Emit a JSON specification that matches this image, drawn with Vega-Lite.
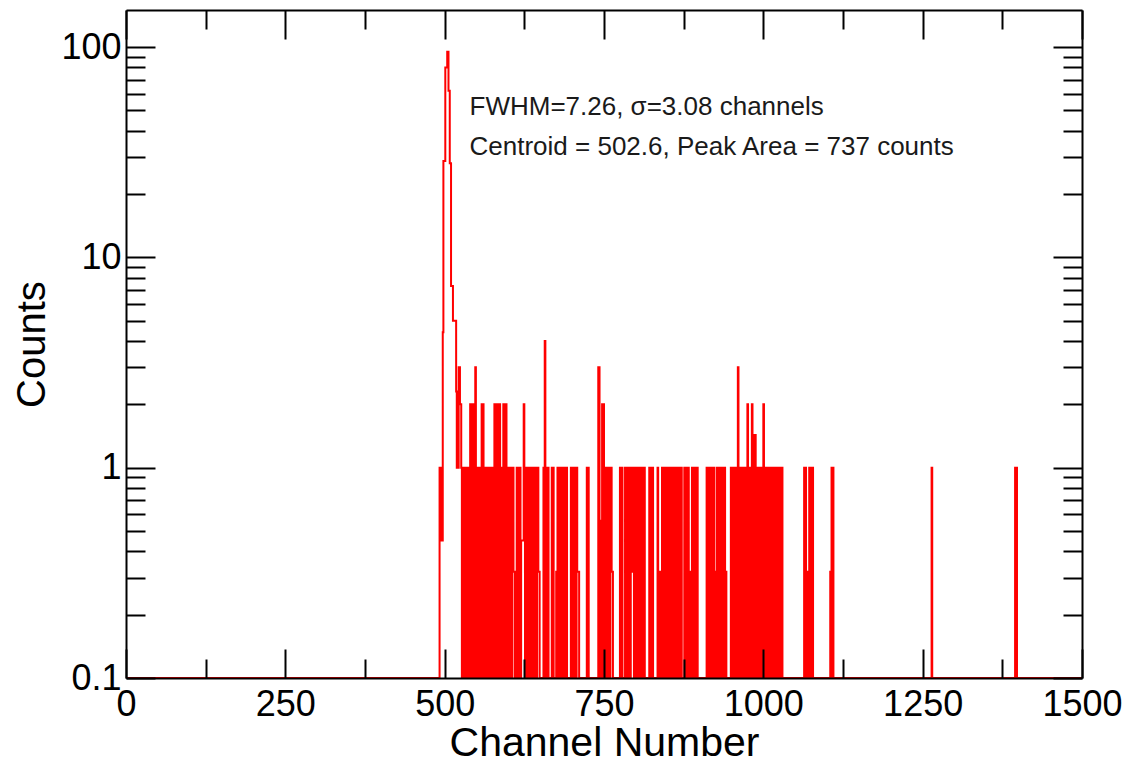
{
  "$schema": "https://vega.github.io/schema/vega-lite/v6.json",
  "width": 956,
  "height": 668,
  "autosize": {"type": "none"},
  "padding": {"left": 126, "top": 10, "right": 48, "bottom": 86},
  "background": "white",
  "config": {"view": {"stroke": null}, "font": "Liberation Sans"},
  "data": {"values": [
    {"channel": 0, "counts": 0},
    {"channel": 492, "counts": 1},
    {"channel": 494, "counts": 0.45},
    {"channel": 497, "counts": 4.4},
    {"channel": 498, "counts": 28.7},
    {"channel": 501, "counts": 80},
    {"channel": 504, "counts": 95},
    {"channel": 506, "counts": 62},
    {"channel": 508, "counts": 28},
    {"channel": 510, "counts": 7.3},
    {"channel": 513, "counts": 5},
    {"channel": 518, "counts": 2.3},
    {"channel": 519, "counts": 1},
    {"channel": 520, "counts": 2.3},
    {"channel": 521, "counts": 1},
    {"channel": 522, "counts": 3},
    {"channel": 524, "counts": 2},
    {"channel": 526, "counts": 1},
    {"channel": 527, "counts": 0},
    {"channel": 528, "counts": 1},
    {"channel": 529, "counts": 0},
    {"channel": 531, "counts": 1},
    {"channel": 532, "counts": 0},
    {"channel": 534, "counts": 1},
    {"channel": 535, "counts": 0},
    {"channel": 537, "counts": 1},
    {"channel": 538, "counts": 0},
    {"channel": 540, "counts": 2},
    {"channel": 541, "counts": 0},
    {"channel": 542, "counts": 2},
    {"channel": 543, "counts": 0},
    {"channel": 544, "counts": 2},
    {"channel": 545, "counts": 1},
    {"channel": 546, "counts": 0},
    {"channel": 547, "counts": 1},
    {"channel": 548, "counts": 3},
    {"channel": 549, "counts": 0},
    {"channel": 550, "counts": 1},
    {"channel": 551, "counts": 0},
    {"channel": 553, "counts": 1},
    {"channel": 554, "counts": 0},
    {"channel": 556, "counts": 1},
    {"channel": 557, "counts": 0},
    {"channel": 558, "counts": 2},
    {"channel": 559, "counts": 0},
    {"channel": 560, "counts": 2},
    {"channel": 561, "counts": 0},
    {"channel": 562, "counts": 1},
    {"channel": 563, "counts": 0},
    {"channel": 565, "counts": 1},
    {"channel": 566, "counts": 0},
    {"channel": 568, "counts": 1},
    {"channel": 569, "counts": 0},
    {"channel": 571, "counts": 1},
    {"channel": 572, "counts": 0},
    {"channel": 574, "counts": 1},
    {"channel": 575, "counts": 0},
    {"channel": 576, "counts": 1},
    {"channel": 577, "counts": 0},
    {"channel": 578, "counts": 2},
    {"channel": 579, "counts": 0},
    {"channel": 580, "counts": 2},
    {"channel": 581, "counts": 0.32},
    {"channel": 583, "counts": 0},
    {"channel": 584, "counts": 2},
    {"channel": 585, "counts": 0},
    {"channel": 586, "counts": 2},
    {"channel": 587, "counts": 1},
    {"channel": 588, "counts": 0},
    {"channel": 590, "counts": 1},
    {"channel": 591, "counts": 0},
    {"channel": 592, "counts": 2},
    {"channel": 593, "counts": 0},
    {"channel": 594, "counts": 2},
    {"channel": 595, "counts": 0},
    {"channel": 596, "counts": 2},
    {"channel": 597, "counts": 0},
    {"channel": 598, "counts": 1},
    {"channel": 599, "counts": 0},
    {"channel": 601, "counts": 1},
    {"channel": 602, "counts": 0},
    {"channel": 603, "counts": 1},
    {"channel": 604, "counts": 0},
    {"channel": 606, "counts": 1},
    {"channel": 608, "counts": 0.32},
    {"channel": 610, "counts": 0},
    {"channel": 613, "counts": 1},
    {"channel": 614, "counts": 0},
    {"channel": 616, "counts": 1},
    {"channel": 617, "counts": 0},
    {"channel": 618, "counts": 1},
    {"channel": 619, "counts": 0},
    {"channel": 620, "counts": 0.45},
    {"channel": 624, "counts": 2},
    {"channel": 625, "counts": 1},
    {"channel": 626, "counts": 0},
    {"channel": 627, "counts": 1},
    {"channel": 628, "counts": 0},
    {"channel": 630, "counts": 1},
    {"channel": 631, "counts": 0},
    {"channel": 633, "counts": 1},
    {"channel": 634, "counts": 0},
    {"channel": 636, "counts": 1},
    {"channel": 637, "counts": 0},
    {"channel": 639, "counts": 1},
    {"channel": 640, "counts": 0},
    {"channel": 642, "counts": 1},
    {"channel": 643, "counts": 0},
    {"channel": 645, "counts": 1},
    {"channel": 647, "counts": 0.32},
    {"channel": 649, "counts": 0},
    {"channel": 655, "counts": 1},
    {"channel": 656, "counts": 0},
    {"channel": 657, "counts": 4},
    {"channel": 658, "counts": 0},
    {"channel": 659, "counts": 1},
    {"channel": 660, "counts": 0},
    {"channel": 662, "counts": 1},
    {"channel": 663, "counts": 0},
    {"channel": 668, "counts": 1},
    {"channel": 669, "counts": 0},
    {"channel": 670, "counts": 1},
    {"channel": 671, "counts": 0},
    {"channel": 675, "counts": 0.32},
    {"channel": 677, "counts": 1},
    {"channel": 678, "counts": 0},
    {"channel": 680, "counts": 1},
    {"channel": 681, "counts": 0},
    {"channel": 683, "counts": 1},
    {"channel": 684, "counts": 0},
    {"channel": 686, "counts": 1},
    {"channel": 687, "counts": 0},
    {"channel": 689, "counts": 1},
    {"channel": 690, "counts": 0},
    {"channel": 691, "counts": 1},
    {"channel": 692, "counts": 0},
    {"channel": 698, "counts": 1},
    {"channel": 699, "counts": 0},
    {"channel": 701, "counts": 1},
    {"channel": 702, "counts": 0},
    {"channel": 704, "counts": 1},
    {"channel": 705, "counts": 0},
    {"channel": 707, "counts": 1},
    {"channel": 708, "counts": 0.32},
    {"channel": 711, "counts": 0},
    {"channel": 723, "counts": 1},
    {"channel": 724, "counts": 0},
    {"channel": 725, "counts": 1},
    {"channel": 726, "counts": 0},
    {"channel": 741, "counts": 3},
    {"channel": 743, "counts": 0.56},
    {"channel": 744, "counts": 0},
    {"channel": 745, "counts": 0.56},
    {"channel": 746, "counts": 0},
    {"channel": 747, "counts": 2},
    {"channel": 748, "counts": 0},
    {"channel": 749, "counts": 2},
    {"channel": 750, "counts": 1},
    {"channel": 751, "counts": 0},
    {"channel": 752, "counts": 1},
    {"channel": 753, "counts": 0},
    {"channel": 755, "counts": 1},
    {"channel": 756, "counts": 0},
    {"channel": 758, "counts": 1},
    {"channel": 759, "counts": 0},
    {"channel": 760, "counts": 1},
    {"channel": 762, "counts": 0.32},
    {"channel": 764, "counts": 0},
    {"channel": 775, "counts": 1},
    {"channel": 776, "counts": 0},
    {"channel": 778, "counts": 1},
    {"channel": 779, "counts": 0},
    {"channel": 783, "counts": 1},
    {"channel": 784, "counts": 0},
    {"channel": 786, "counts": 1},
    {"channel": 787, "counts": 0},
    {"channel": 789, "counts": 1},
    {"channel": 790, "counts": 0},
    {"channel": 792, "counts": 1},
    {"channel": 794, "counts": 0.32},
    {"channel": 796, "counts": 1},
    {"channel": 797, "counts": 0},
    {"channel": 798, "counts": 1},
    {"channel": 799, "counts": 0},
    {"channel": 802, "counts": 1},
    {"channel": 803, "counts": 0},
    {"channel": 805, "counts": 1},
    {"channel": 806, "counts": 0},
    {"channel": 808, "counts": 1},
    {"channel": 809, "counts": 0},
    {"channel": 811, "counts": 1},
    {"channel": 812, "counts": 0},
    {"channel": 813, "counts": 1},
    {"channel": 814, "counts": 0},
    {"channel": 821, "counts": 1},
    {"channel": 822, "counts": 0},
    {"channel": 824, "counts": 1},
    {"channel": 825, "counts": 0},
    {"channel": 826, "counts": 1},
    {"channel": 827, "counts": 0},
    {"channel": 834, "counts": 1},
    {"channel": 835, "counts": 0},
    {"channel": 836, "counts": 0.32},
    {"channel": 837, "counts": 0},
    {"channel": 839, "counts": 0.32},
    {"channel": 840, "counts": 0},
    {"channel": 841, "counts": 1},
    {"channel": 842, "counts": 0},
    {"channel": 844, "counts": 1},
    {"channel": 845, "counts": 0},
    {"channel": 847, "counts": 1},
    {"channel": 848, "counts": 0},
    {"channel": 850, "counts": 1},
    {"channel": 851, "counts": 0},
    {"channel": 853, "counts": 1},
    {"channel": 854, "counts": 0},
    {"channel": 856, "counts": 1},
    {"channel": 857, "counts": 0},
    {"channel": 859, "counts": 1},
    {"channel": 860, "counts": 0},
    {"channel": 862, "counts": 1},
    {"channel": 863, "counts": 0},
    {"channel": 865, "counts": 1},
    {"channel": 866, "counts": 0},
    {"channel": 868, "counts": 1},
    {"channel": 869, "counts": 0},
    {"channel": 871, "counts": 1},
    {"channel": 872, "counts": 0},
    {"channel": 876, "counts": 1},
    {"channel": 877, "counts": 0},
    {"channel": 879, "counts": 1},
    {"channel": 880, "counts": 0},
    {"channel": 882, "counts": 1},
    {"channel": 883, "counts": 0.32},
    {"channel": 884, "counts": 0},
    {"channel": 886, "counts": 0.32},
    {"channel": 887, "counts": 0},
    {"channel": 888, "counts": 1},
    {"channel": 889, "counts": 0},
    {"channel": 891, "counts": 1},
    {"channel": 892, "counts": 0},
    {"channel": 894, "counts": 1},
    {"channel": 895, "counts": 0},
    {"channel": 896, "counts": 1},
    {"channel": 897, "counts": 0},
    {"channel": 911, "counts": 1},
    {"channel": 912, "counts": 0},
    {"channel": 914, "counts": 1},
    {"channel": 915, "counts": 0},
    {"channel": 917, "counts": 1},
    {"channel": 918, "counts": 0},
    {"channel": 920, "counts": 1},
    {"channel": 921, "counts": 0},
    {"channel": 922, "counts": 1},
    {"channel": 923, "counts": 0.32},
    {"channel": 924, "counts": 0},
    {"channel": 926, "counts": 0.32},
    {"channel": 927, "counts": 1},
    {"channel": 928, "counts": 0},
    {"channel": 930, "counts": 1},
    {"channel": 931, "counts": 0},
    {"channel": 933, "counts": 1},
    {"channel": 934, "counts": 0},
    {"channel": 936, "counts": 1},
    {"channel": 937, "counts": 0},
    {"channel": 939, "counts": 1},
    {"channel": 940, "counts": 0.32},
    {"channel": 942, "counts": 0},
    {"channel": 949, "counts": 1},
    {"channel": 950, "counts": 0},
    {"channel": 952, "counts": 1},
    {"channel": 953, "counts": 0},
    {"channel": 955, "counts": 1},
    {"channel": 956, "counts": 0},
    {"channel": 957, "counts": 1},
    {"channel": 958, "counts": 0},
    {"channel": 959, "counts": 1},
    {"channel": 960, "counts": 3},
    {"channel": 961, "counts": 1},
    {"channel": 962, "counts": 0},
    {"channel": 963, "counts": 1},
    {"channel": 964, "counts": 0},
    {"channel": 966, "counts": 1},
    {"channel": 967, "counts": 0},
    {"channel": 969, "counts": 1},
    {"channel": 970, "counts": 0},
    {"channel": 972, "counts": 1},
    {"channel": 973, "counts": 0},
    {"channel": 975, "counts": 2},
    {"channel": 976, "counts": 1},
    {"channel": 977, "counts": 0},
    {"channel": 979, "counts": 1},
    {"channel": 980, "counts": 0},
    {"channel": 982, "counts": 2},
    {"channel": 983, "counts": 0},
    {"channel": 985, "counts": 1.43},
    {"channel": 986, "counts": 0},
    {"channel": 987, "counts": 1.43},
    {"channel": 988, "counts": 0},
    {"channel": 989, "counts": 1},
    {"channel": 990, "counts": 0},
    {"channel": 992, "counts": 1},
    {"channel": 993, "counts": 0},
    {"channel": 995, "counts": 1},
    {"channel": 996, "counts": 0},
    {"channel": 998, "counts": 1},
    {"channel": 999, "counts": 0},
    {"channel": 1000, "counts": 2},
    {"channel": 1001, "counts": 1},
    {"channel": 1002, "counts": 0},
    {"channel": 1003, "counts": 1},
    {"channel": 1004, "counts": 0},
    {"channel": 1006, "counts": 1},
    {"channel": 1007, "counts": 0},
    {"channel": 1009, "counts": 1},
    {"channel": 1010, "counts": 0},
    {"channel": 1012, "counts": 1},
    {"channel": 1013, "counts": 0},
    {"channel": 1015, "counts": 1},
    {"channel": 1016, "counts": 0.32},
    {"channel": 1018, "counts": 0},
    {"channel": 1019, "counts": 1},
    {"channel": 1020, "counts": 0},
    {"channel": 1022, "counts": 1},
    {"channel": 1023, "counts": 0},
    {"channel": 1026, "counts": 1},
    {"channel": 1027, "counts": 0},
    {"channel": 1029, "counts": 1},
    {"channel": 1030, "counts": 0},
    {"channel": 1064, "counts": 1},
    {"channel": 1065, "counts": 0},
    {"channel": 1066, "counts": 1},
    {"channel": 1067, "counts": 0},
    {"channel": 1068, "counts": 0.32},
    {"channel": 1069, "counts": 0},
    {"channel": 1070, "counts": 0.32},
    {"channel": 1071, "counts": 0},
    {"channel": 1072, "counts": 1},
    {"channel": 1073, "counts": 0},
    {"channel": 1075, "counts": 1},
    {"channel": 1076, "counts": 0},
    {"channel": 1077, "counts": 1},
    {"channel": 1078, "counts": 0},
    {"channel": 1105, "counts": 0.32},
    {"channel": 1106, "counts": 0},
    {"channel": 1107, "counts": 1},
    {"channel": 1108, "counts": 0},
    {"channel": 1109, "counts": 1},
    {"channel": 1110, "counts": 0},
    {"channel": 1264, "counts": 1},
    {"channel": 1265, "counts": 0},
    {"channel": 1395, "counts": 1},
    {"channel": 1398, "counts": 0},
    {"channel": 1500, "counts": 0}
  ]},
  "layer": [
    {
      "mark": {"type": "line", "interpolate": "step-after", "color": "#ff0000", "strokeWidth": 2, "clip": true},
      "encoding": {
        "x": {
          "field": "channel", "type": "quantitative",
          "scale": {"domain": [0, 1500], "nice": false, "zero": false},
          "axis": {
            "orient": "bottom",
            "values": [0, 125, 250, 375, 500, 625, 750, 875, 1000, 1125, 1250, 1375, 1500],
            "format": "d",
            "labelExpr": "datum.value % 250 === 0 ? datum.label : ''",
            "tickSize": {"condition": {"test": "datum.value % 250 === 0", "value": -29}, "value": -19},
            "tickWidth": 2, "tickColor": "black",
            "domain": true, "domainColor": "black", "domainWidth": 2,
            "grid": false,
            "labelPadding": 38, "labelFontSize": 36, "labelColor": "black", "labelFont": "Liberation Sans",
            "labelFlush": false, "labelOverlap": false,
            "title": "Channel Number", "titleFontSize": 41, "titleFontWeight": "normal", "titleColor": "black", "titleFont": "Liberation Sans",
            "titleY": 77, "titleBaseline": "alphabetic",
            "zindex": 1
          }
        },
        "y": {
          "field": "counts", "type": "quantitative",
          "scale": {"type": "log", "domain": [0.1, 150], "clamp": true, "nice": false},
          "axis": {
            "orient": "left",
            "values": [0.1, 0.2, 0.3, 0.4, 0.5, 0.6, 0.7, 0.8, 0.9, 1, 2, 3, 4, 5, 6, 7, 8, 9, 10, 20, 30, 40, 50, 60, 70, 80, 90, 100],
            "format": "~g",
            "labelExpr": "(datum.value === 0.1 || datum.value === 1 || datum.value === 10 || datum.value === 100) ? datum.label : ''",
            "tickSize": {"condition": {"test": "datum.value === 0.1 || datum.value === 1 || datum.value === 10 || datum.value === 100", "value": -29}, "value": -19},
            "tickWidth": 2, "tickColor": "black",
            "domain": true, "domainColor": "black", "domainWidth": 2,
            "grid": false,
            "labelPadding": 34, "labelFontSize": 36, "labelColor": "black", "labelFont": "Liberation Sans",
            "labelFlush": false, "labelOverlap": false,
            "title": "Counts", "titleFontSize": 40, "titleFontWeight": "normal", "titleColor": "black", "titleFont": "Liberation Sans",
            "titlePadding": 8,
            "zindex": 1
          }
        }
      }
    },
    {
      "data": {"values": [
        {"channel": 539, "counts": 47.5, "label": "FWHM=7.26, σ=3.08 channels"},
        {"channel": 539, "counts": 30.6, "label": "Centroid = 502.6, Peak Area = 737 counts"}
      ]},
      "mark": {"type": "text", "align": "left", "baseline": "alphabetic", "fontSize": 26, "font": "Liberation Sans", "color": "#1a1a1a"},
      "encoding": {
        "x": {
          "field": "channel", "type": "quantitative",
          "scale": {"domain": [0, 1500], "nice": false, "zero": false},
          "axis": {
            "orient": "top",
            "values": [0, 125, 250, 375, 500, 625, 750, 875, 1000, 1125, 1250, 1375, 1500],
            "labels": false,
            "tickSize": {"condition": {"test": "datum.value % 250 === 0", "value": -29}, "value": -19},
            "tickWidth": 2, "tickColor": "black",
            "domain": true, "domainColor": "black", "domainWidth": 2,
            "grid": false, "title": null, "zindex": 1
          }
        },
        "y": {
          "field": "counts", "type": "quantitative",
          "scale": {"type": "log", "domain": [0.1, 150], "clamp": true, "nice": false},
          "axis": {
            "orient": "right",
            "values": [0.1, 0.2, 0.3, 0.4, 0.5, 0.6, 0.7, 0.8, 0.9, 1, 2, 3, 4, 5, 6, 7, 8, 9, 10, 20, 30, 40, 50, 60, 70, 80, 90, 100],
            "labels": false,
            "tickSize": {"condition": {"test": "datum.value === 0.1 || datum.value === 1 || datum.value === 10 || datum.value === 100", "value": -29}, "value": -19},
            "tickWidth": 2, "tickColor": "black",
            "domain": true, "domainColor": "black", "domainWidth": 2,
            "grid": false, "title": null, "zindex": 1
          }
        },
        "text": {"field": "label", "type": "nominal"}
      }
    }
  ],
  "resolve": {"axis": {"x": "independent", "y": "independent"}}
}
